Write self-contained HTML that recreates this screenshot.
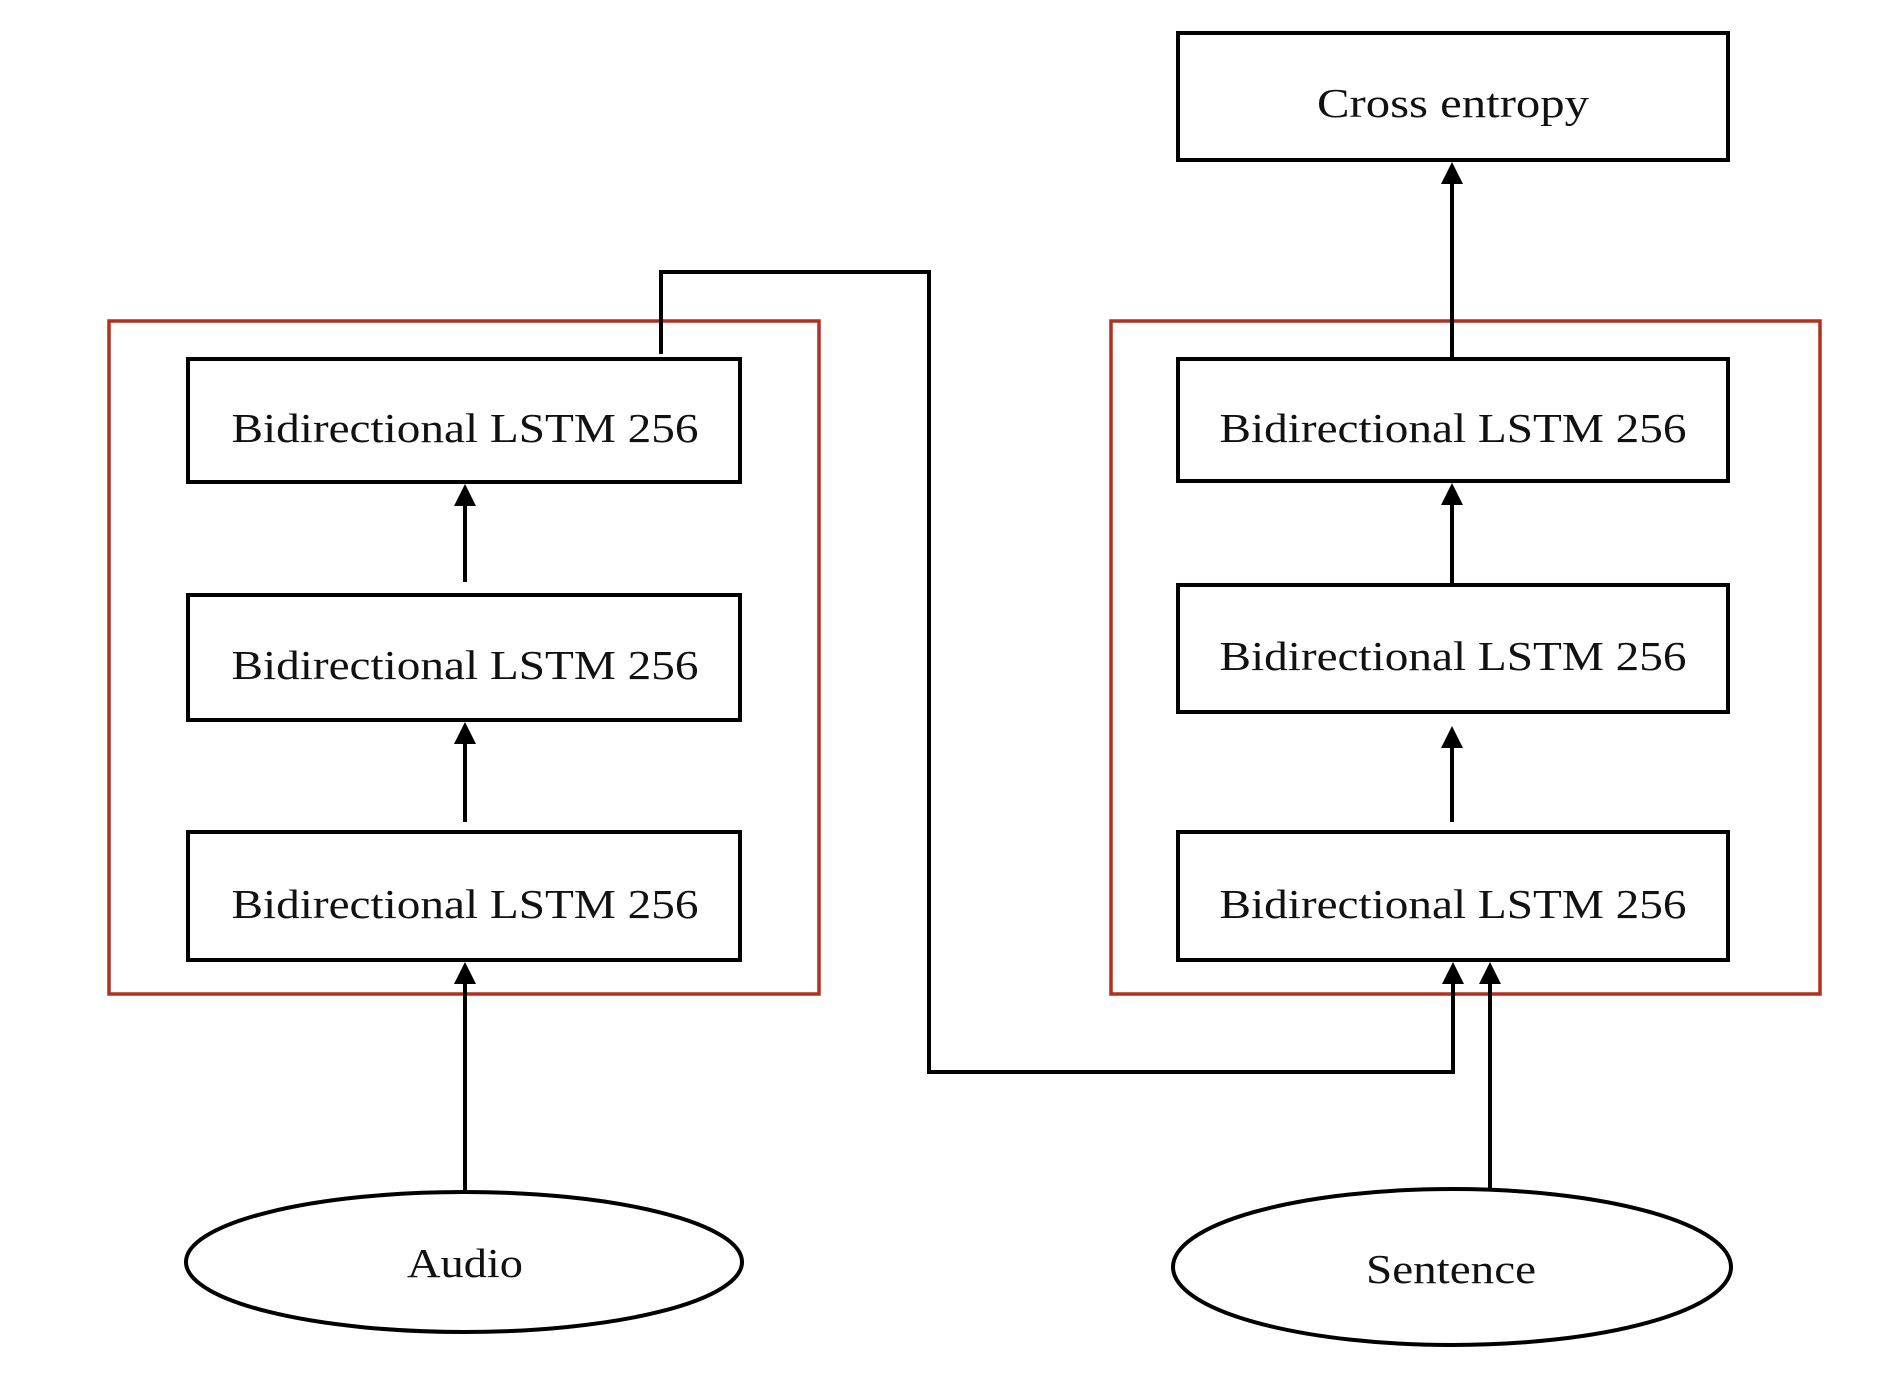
<!DOCTYPE html>
<html><head><meta charset="utf-8"><style>
html,body{margin:0;padding:0;background:#fff;}
svg{display:block;}
text{font-family:"Liberation Serif",serif;font-size:41px;fill:#111;}
</style></head><body>
<svg width="1894" height="1384" viewBox="0 0 1894 1384" xmlns="http://www.w3.org/2000/svg">
<g fill="none" stroke="#b1301f" stroke-width="3.5">
<rect x="109" y="321" width="710" height="673"/>
<rect x="1111" y="321" width="709" height="673"/>
</g>
<g fill="#fff" stroke="#000" stroke-width="4">
<rect x="1178" y="33" width="550" height="127"/>
<rect x="188" y="359" width="552" height="123"/>
<rect x="188" y="595" width="552" height="125"/>
<rect x="188" y="832" width="552" height="128"/>
<rect x="1178" y="359" width="550" height="122"/>
<rect x="1178" y="585" width="550" height="127"/>
<rect x="1178" y="832" width="550" height="128"/>
<ellipse cx="464" cy="1262" rx="278" ry="70"/>
<ellipse cx="1452" cy="1267" rx="279" ry="78"/>
</g>
<g fill="none" stroke="#000" stroke-width="4">
<line x1="1452" y1="359" x2="1452" y2="180"/>
<line x1="1452" y1="585" x2="1452" y2="500"/>
<line x1="1452" y1="822" x2="1452" y2="745"/>
<line x1="465" y1="582" x2="465" y2="500"/>
<line x1="465" y1="822" x2="465" y2="740"/>
<line x1="465" y1="1192" x2="465" y2="980"/>
<polyline points="661,354 661,272 929,272 929,1072 1453,1072 1453,980"/>
<line x1="1490" y1="1190" x2="1490" y2="980"/>
</g>
<g fill="#000">
<polygon points="1452,162 1441,184 1463,184"/>
<polygon points="1452,483 1441,505 1463,505"/>
<polygon points="1452,726 1441,748 1463,748"/>
<polygon points="465,484 454,506 476,506"/>
<polygon points="465,722 454,744 476,744"/>
<polygon points="465,962 454,984 476,984"/>
<polygon points="1453,962 1442,984 1464,984"/>
<polygon points="1490,962 1479,984 1501,984"/>
</g>
<g text-anchor="middle">
<text x="1453" y="117" textLength="272" lengthAdjust="spacingAndGlyphs">Cross entropy</text>
<text x="465" y="442" textLength="467" lengthAdjust="spacingAndGlyphs">Bidirectional LSTM 256</text>
<text x="465" y="679" textLength="467" lengthAdjust="spacingAndGlyphs">Bidirectional LSTM 256</text>
<text x="465" y="918" textLength="467" lengthAdjust="spacingAndGlyphs">Bidirectional LSTM 256</text>
<text x="1453" y="442" textLength="467" lengthAdjust="spacingAndGlyphs">Bidirectional LSTM 256</text>
<text x="1453" y="670" textLength="467" lengthAdjust="spacingAndGlyphs">Bidirectional LSTM 256</text>
<text x="1453" y="918" textLength="467" lengthAdjust="spacingAndGlyphs">Bidirectional LSTM 256</text>
<text x="465" y="1277" textLength="116" lengthAdjust="spacingAndGlyphs">Audio</text>
<text x="1451" y="1283" textLength="170" lengthAdjust="spacingAndGlyphs">Sentence</text>
</g>
</svg>
</body></html>
